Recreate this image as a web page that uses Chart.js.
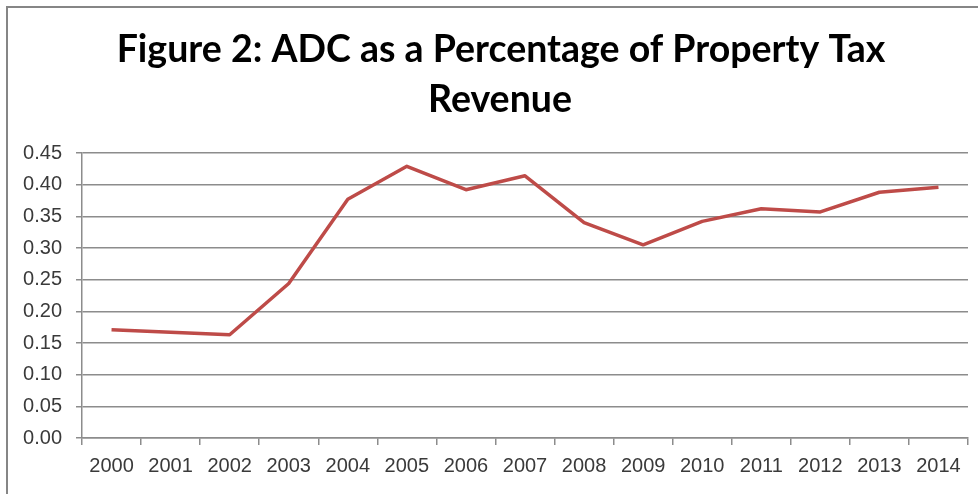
<!DOCTYPE html>
<html>
<head>
<meta charset="utf-8">
<script src="https://cdn.jsdelivr.net/npm/chart.js@4"></script>
<style>
  html, body { margin: 0; padding: 0; background: #fff; }
  #wrap { position: relative; width: 978px; height: 494px; }
  #frame { position: absolute; left: 6px; top: 6px; right: 0; bottom: 0;
           border-left: 2px solid #868686; border-top: 2px solid #868686; pointer-events: none; }
</style>
</head>
<body>
<div id="wrap">
  <canvas id="lineChart" width="978" height="494"></canvas>
  <div id="frame"></div>
</div>
<script>
const years = ['2000', '2001', '2002', '2003', '2004', '2005', '2006', '2007',
  '2008', '2009', '2010', '2011', '2012', '2013', '2014'];

// ADC / property tax revenue
const adcShare = [0.171, 0.167, 0.163, 0.244, 0.377, 0.429, 0.392, 0.414,
  0.340, 0.305, 0.342, 0.362, 0.357, 0.388, 0.396];

const yTicks = [0, 0.05, 0.10, 0.15, 0.20, 0.25, 0.30, 0.35, 0.40, 0.45];

const titleLines = ['Figure 2: ADC as a Percentage of Property Tax', 'Revenue'];

const gridGray = '#8c8c8c';

// title drawn by hand so it can sit centred like the original
const titlePlugin = {
  id: 'figTitle',
  afterDraw(chart) {
    const ctx = chart.ctx;
    ctx.save();
    ctx.font = 'bold 32px Lato';
    let w = ctx.measureText(titleLines[0]).width;
    let size = 32 * 768 / w;
    ctx.font = 'bold ' + size.toFixed(1) + 'px Lato';
    ctx.fillStyle = '#000';
    ctx.textAlign = 'center';
    ctx.textBaseline = 'alphabetic';
    ctx.fillText(titleLines[0], 501, 62);
    ctx.fillText(titleLines[1], 500, 112);
    ctx.restore();
  }
};

const data = {
  labels: years,
  datasets: [{
    label: 'ADC as a Percentage of Property Tax Revenue',
    data: adcShare,
    borderColor: '#be4b48',
    backgroundColor: '#be4b48',
    borderWidth: 3.5,
    borderJoinStyle: 'round',
    pointRadius: 0,
    tension: 0
  }]
};

const config = {
  type: 'line',
  data: data,
  plugins: [titlePlugin],
  options: {
    responsive: false,
    animation: false,
    layout: { padding: { left: 0, right: 10, top: 153, bottom: 0 } },
    plugins: {
      legend: { display: false },
      title: { display: false },
      tooltip: { enabled: false }
    },
    scales: {
      x: {
        offset: true,
        grid: { offset: true, drawOnChartArea: false, drawTicks: true, tickLength: 7, color: gridGray, lineWidth: 1.5 },
        border: { color: gridGray, width: 1.5 },
        ticks: { color: '#3a3a3a', font: { family: 'Liberation Sans', size: 20 }, padding: 9, maxRotation: 0, autoSkip: false },
        afterFit: s => { s.height = 56; }
      },
      y: {
        min: 0,
        max: 0.45,
        afterBuildTicks: s => { s.ticks = yTicks.map(v => ({ value: v })); },
        grid: { color: gridGray, lineWidth: 1.5, tickLength: 6 },
        border: { color: gridGray, width: 1.5 },
        ticks: {
          color: '#3a3a3a',
          font: { family: 'Liberation Sans', size: 20 },
          padding: 14,
          callback: v => v.toFixed(2)
        },
        afterFit: s => { s.width = 82; }
      }
    }
  }
};

const lineChart = new Chart(document.getElementById('lineChart'), config);
</script>
</body>
</html>
